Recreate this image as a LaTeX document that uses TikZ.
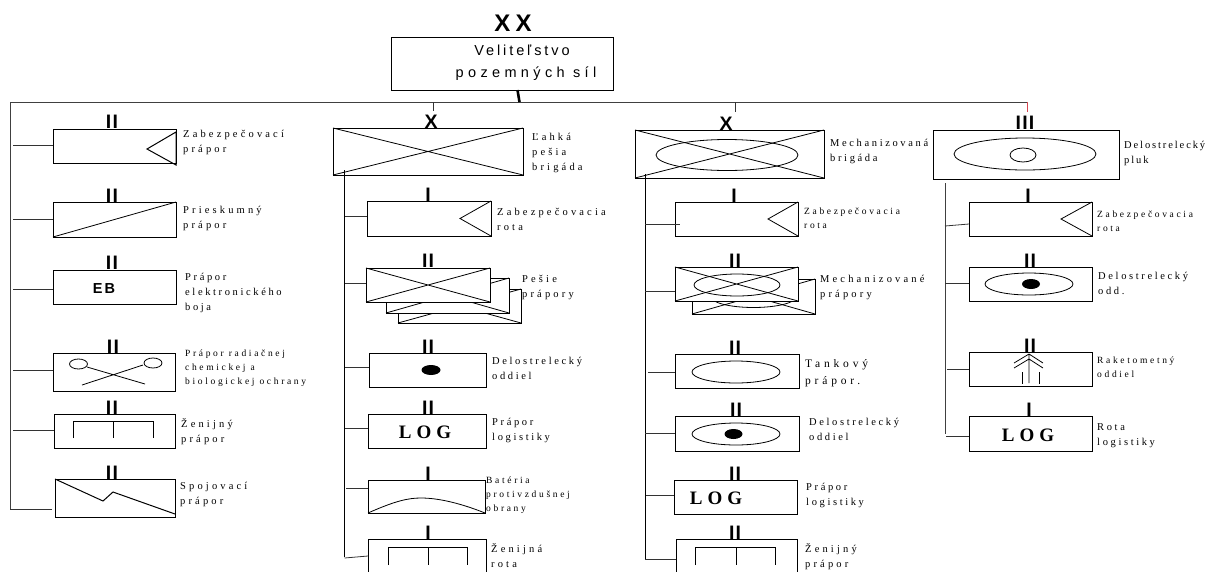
\documentclass[tikz,border=0pt]{standalone}
\usepackage{fontspec}
\setmainfont{Liberation Serif}
\newfontfamily\lblfont[LetterSpace=30]{Liberation Serif}
\newfontfamily\lblmidfont[LetterSpace=25]{Liberation Serif}
\newfontfamily\lblnarfont[LetterSpace=18]{Liberation Serif}
\newfontfamily\lblwidefont[LetterSpace=33]{Liberation Serif}
\newfontfamily\lblsmfont[LetterSpace=28]{Liberation Serif}
\newfontfamily\hqfont[LetterSpace=30]{Liberation Sans}
\newfontfamily\hqnarfont[LetterSpace=20]{Liberation Sans}
\newfontfamily\echfont[LetterSpace=6,BoldFont=Liberation Sans Bold]{Liberation Sans}
\newfontfamily\xxfont[LetterSpace=22,BoldFont=Liberation Sans Bold]{Liberation Sans}
\newfontfamily\logfont[LetterSpace=27,BoldFont=Liberation Serif Bold]{Liberation Serif}
\newfontfamily\ebfont[LetterSpace=15,BoldFont=Liberation Sans Bold]{Liberation Sans}
\definecolor{stemred}{RGB}{214,70,80}
\tikzset{
  unitbox/.style = {draw, fill=white, line width=.9pt, inner sep=0pt, outer sep=0pt, anchor=north west},
  symb/.style = {line width=.8pt},
  bus/.style = {line width=.9pt, black!75},
  branch/.style = {line width=.8pt, black!80},
  echelon/.style = {anchor=base, inner sep=0pt, font=\fontsize{19.5}{20}\selectfont\echfont\bfseries},
  lbl/.style = {anchor=north west, inner sep=0pt, align=left, execute at begin node={\rule{0pt}{9pt}},
    font=\fontsize{10.5}{15}\selectfont\lblfont},
  lblmid/.style = {lbl, font=\fontsize{10.5}{15}\selectfont\lblmidfont},
  lblnar/.style = {lbl, font=\fontsize{10.5}{15}\selectfont\lblnarfont},
  lblbig/.style = {lbl, font=\fontsize{11.5}{16.5}\selectfont\lblwidefont},
  lblsm/.style = {lbl, font=\fontsize{9.5}{14}\selectfont\lblsmfont},
  logtext/.style = {inner sep=0pt, font=\fontsize{19}{20}\selectfont\logfont\bfseries},
}
% box from its upper left to its lower right corner
\newcommand{\unit}[5]{\node[unitbox, minimum width={#4-#2}, minimum height={#5-#3}] (#1) at (#2,#3) {};}
\newcommand{\crossed}[1]{\draw[symb] (#1.north west) -- (#1.south east) (#1.south west) -- (#1.north east);}
\newcommand{\engineer}[5]{\draw[symb] (#1,#5) -- (#1,#4) -- (#3,#4) -- (#3,#5) (#2,#4) -- (#2,#5);}
\newcommand{\branch}[3]{\coordinate (#3Br) at (#1,#2); \draw[branch] (#3Br) -- (#3Br -| #3.west);}
\begin{document}
\begin{tikzpicture}[x=1pt, y=-1pt]
  \useasboundingbox (0,0) rectangle (1209,571);

  % headquarters and the long bus
  \unit{hq}{391}{37}{613}{90}
  \node[inner sep=0pt, font=\fontsize{24}{24}\selectfont\xxfont\bfseries] (hqMark) at (513,23) {XX};
  \node[inner sep=0pt, font=\fontsize{14.5}{22}\selectfont\hqfont, align=center] (hqText) at (526,62.5) {{\hqnarfont Veliteľstvo}\hspace*{8pt}\\pozemných síl};
  \coordinate (busL) at (10,102);
  \coordinate (busR) at (1027,102);
  \coordinate (busEnd) at (10,509);
  \coordinate (hqFoot) at (517.5,90);
  \coordinate (hqBus) at (519.5,102);
  \draw[bus] (busEnd) -- (busL) -- (busR);
  \draw[line width=2.6pt] (hqFoot) -- (hqBus);

  % first column
  \unit{zabPr}{53}{129}{176}{163}
  \node[echelon] (zabPrM) at (112,128) {II};
  \draw[symb, line width=1pt] (176,132) -- (147,149) -- (176,165) -- cycle;
  \node[lbl] (zabPrT) at (183,129.5) {Zabezpečovací\\prápor};
  \branch{13}{145}{zabPr}

  \unit{priPr}{53}{202}{176}{237}
  \node[echelon] (priPrM) at (112,202) {II};
  \draw[symb] (priPr.south west) -- (priPr.north east);
  \node[lbl] (priPrT) at (183,205.5) {Prieskumný\\prápor};
  \branch{13}{219}{priPr}

  \unit{ebPr}{53}{270}{176}{304}
  \node[echelon] (ebPrM) at (112,269) {II};
  \node[inner sep=0pt, font=\fontsize{14.5}{15}\selectfont\ebfont\bfseries] (ebPrS) at (104,289) {EB};
  \node[lblmid] (ebPrT) at (185,272.5) {Prápor\\elektronického\\boja};
  \branch{13}{289}{ebPr}

  \unit{rchPr}{53}{353}{175}{391}
  \node[echelon] (rchPrM) at (113,353) {II};
  \draw[symb] (78.5,364) ellipse (9pt and 5pt) (153,363) ellipse (9pt and 5pt);
  \draw[symb] (87,367) -- (145,384) (143,365) -- (82,385);
  \node[lblsm] (rchPrT) at (185,349.5) {Prápor radiačnej\\chemickej a\\biologickej ochrany};
  \branch{13}{370}{rchPr}

  \unit{zenPr}{54}{414}{175}{448}
  \node[echelon] (zenPrM) at (112,414) {II};
  \engineer{73}{113.5}{153}{421}{438}
  \node[lbl] (zenPrT) at (181,418.5) {Ženijný\\prápor};
  \branch{13}{430}{zenPr}

  \unit{spoPr}{55}{479}{175}{517}
  \node[echelon] (spoPrM) at (112,479) {II};
  \draw[symb, line width=1pt] (spoPr.north west) -- (103,501) -- (113,492) -- (175,514);
  \node[lbl] (spoPrT) at (180,481.5) {Spojovací\\prápor};
  \coordinate (spoPrBr) at (52,509);
  \draw[branch] (busEnd) -- (spoPrBr);

  % light infantry brigade
  \coordinate (lpbStem) at (433,102);
  \coordinate (lpbStemEnd) at (433,111);
  \draw[branch] (lpbStem) -- (lpbStemEnd);
  \unit{lpb}{333}{128}{523}{175}
  \crossed{lpb}
  \node[echelon] (lpbM) at (431,128) {X};
  \node[lbl] (lpbT) at (532,132.5) {Ľahká\\pešia\\brigáda};
  \coordinate (lpbSpine) at (344.5,170);
  \coordinate (lpbSpineEnd) at (344.5,557);
  \draw[line width=.9pt] (lpbSpine) -- (lpbSpineEnd);

  \unit{lpbZab}{367}{201}{491}{236}
  \node[echelon] (lpbZabM) at (428,201) {I};
  \draw[symb] (lpbZab.north east) -- (460,218.5) -- (lpbZab.south east);
  \node[lbl] (lpbZabT) at (497,207.5) {Zabezpečovacia\\rota};
  \branch{345}{216}{lpbZab}

  \unit{lpbPes3}{398}{289}{521}{323}
  \crossed{lpbPes3}
  \unit{lpbPes2}{386}{278}{509}{313}
  \crossed{lpbPes2}
  \unit{lpbPes}{366}{268}{490}{302}
  \crossed{lpbPes}
  \node[echelon] (lpbPesM) at (428,267) {II};
  \node[lbl] (lpbPesT) at (522,274.5) {Pešie\\prápory};
  \branch{345}{283}{lpbPes}

  \unit{lpbDel}{369}{353}{486}{387}
  \node[echelon] (lpbDelM) at (428,353) {II};
  \fill (431,370) ellipse (9.5pt and 5pt);
  \node[lblmid] (lpbDelT) at (492,356.5) {Delostrelecký\\oddiel};
  \branch{345}{367}{lpbDel}

  \unit{lpbLog}{368}{414}{486}{448}
  \node[echelon] (lpbLogM) at (428,414) {II};
  \node[logtext] (lpbLogS) at (425,432) {LOG};
  \node[lblmid] (lpbLogT) at (492,417.5) {Prápor\\logistiky};
  \branch{345}{428}{lpbLog}

  \unit{lpbBat}{368}{480}{485}{513}
  \node[echelon] (lpbBatM) at (428,480) {I};
  \draw[symb] (lpbBat.south west) .. controls (395,501) and (408,498) .. (421,498) .. controls (438,498) and (460,503) .. (lpbBat.south east);
  \node[lblsm] (lpbBatT) at (486,476.5) {Batéria\\protivzdušnej\\obrany};
  \branch{346}{488}{lpbBat}

  \unit{lpbZen}{368}{539}{486}{582}
  \node[echelon] (lpbZenM) at (428,539) {I};
  \engineer{388}{428}{467}{547}{565}
  \node[lbl] (lpbZenT) at (491,543.5) {Ženijná\\rota};
  \coordinate (lpbZenBr) at (344.5,558);
  \draw[branch] (lpbZenBr) -- (lpbZen.west |- 0,556);

  % mechanized brigade
  \coordinate (mebStem) at (735,102);
  \coordinate (mebStemEnd) at (735,112);
  \draw[branch] (mebStem) -- (mebStemEnd);
  \unit{meb}{635}{130}{824}{178}
  \crossed{meb}
  \draw[symb] (727,155) ellipse (71pt and 15.5pt);
  \node[echelon] (mebM) at (726,130) {X};
  \node[lblmid] (mebT) at (830,138.5) {Mechanizovaná\\brigáda};
  \coordinate (mebSpine) at (645,174);
  \coordinate (mebSpineEnd) at (645,559);
  \draw[line width=.9pt] (mebSpine) -- (mebSpineEnd);

  \unit{mebZab}{675}{202}{798}{236}
  \node[echelon] (mebZabM) at (734,202) {I};
  \draw[symb] (mebZab.north east) -- (768,219) -- (mebZab.south east);
  \node[lblsm] (mebZabT) at (804,207.5) {Zabezpečovacia\\rota};
  \coordinate (mebZabBr) at (645,224);
  \coordinate (mebZabIn) at (680,224);
  \draw[branch] (mebZabBr) -- (mebZabIn);

  \unit{mebMec2}{692}{279}{815}{314}
  \crossed{mebMec2}
  \draw[symb] (753.5,296.5) ellipse (43pt and 11pt);
  \unit{mebMec}{675}{267}{798}{301}
  \crossed{mebMec}
  \draw[symb] (737,285) ellipse (43pt and 11pt);
  \node[echelon] (mebMecM) at (735,267) {II};
  \node[lbl] (mebMecT) at (820,274.5) {Mechanizované\\prápory};
  \branch{645}{291}{mebMec}

  \unit{mebTan}{675}{354}{799}{388}
  \node[echelon] (mebTanM) at (735,354) {II};
  \draw[symb] (736,372) ellipse (44pt and 11pt);
  \node[lblbig] (mebTanT) at (805,359.5) {Tankový\\prápor.};
  \branch{648}{372}{mebTan}

  \unit{mebDel}{675}{416}{799}{451}
  \node[echelon] (mebDelM) at (736,416) {II};
  \draw[symb] (736,434) ellipse (44pt and 11pt);
  \fill (733.5,434) ellipse (9pt and 5pt);
  \node[lblmid] (mebDelT) at (809,417.5) {Delostrelecký\\oddiel};
  \branch{645}{433}{mebDel}

  \unit{mebLog}{674}{480}{797}{514}
  \node[echelon] (mebLogM) at (735,480) {II};
  \node[logtext] (mebLogS) at (716,498) {LOG};
  \node[lblmid] (mebLogT) at (806,482.5) {Prápor\\logistiky};
  \branch{646}{495}{mebLog}

  \unit{mebZen}{676}{539}{797}{582}
  \node[echelon] (mebZenM) at (735,539) {II};
  \engineer{695}{736}{775}{547}{565}
  \node[lbl] (mebZenT) at (805,543.5) {Ženijný\\prápor};
  \branch{645}{559}{mebZen}

  % artillery regiment
  \coordinate (arpStemEnd) at (1027,112);
  \draw[stemred, line width=.9pt] (busR) -- (arpStemEnd);
  \unit{arp}{933}{130}{1119}{179}
  \draw[symb] (1025,154) ellipse (71pt and 16pt);
  \draw[symb] (1023,155) ellipse (13pt and 7pt);
  \node[echelon] (arpM) at (1025,129) {III};
  \node[lblnar] (arpT) at (1124,140.5) {Delostrelecký\\pluk};
  \coordinate (arpSpine) at (945,183);
  \coordinate (arpSpineEnd) at (945,434);
  \draw[line width=.9pt, black!75] (arpSpine) -- (arpSpineEnd);

  \unit{arpZab}{969}{202}{1092}{236}
  \node[echelon] (arpZabM) at (1028,202) {I};
  \draw[symb] (arpZab.north east) -- (1061,219) -- (arpZab.south east);
  \node[lblsm] (arpZabT) at (1097,210.5) {Zabezpečovacia\\rota};
  \coordinate (arpZabBr) at (945,226);
  \draw[branch] (arpZabBr) -- (arpZab.west |- 0,224);

  \unit{arpDel}{969}{267}{1092}{301}
  \node[echelon] (arpDelM) at (1030,267) {II};
  \draw[symb] (1029,284) ellipse (44pt and 11pt);
  \fill (1031,284) ellipse (9pt and 5pt);
  \node[lblmid] (arpDelT) at (1098,271.5) {Delostrelecký\\odd.};
  \branch{945}{283}{arpDel}

  \unit{arpRak}{969}{352}{1092}{386}
  \node[echelon] (arpRakM) at (1030,352) {II};
  \draw[symb] (1029,354) -- (1029,383) (1014,363) -- (1029,354) -- (1043,363) (1014,368) -- (1029,359) -- (1043,368);
  \draw[symb] (1022,372) -- (1022,384) (1039,372) -- (1039,384);
  \node[lblsm] (arpRakT) at (1097,356.5) {Raketometný\\oddiel};
  \branch{947}{369}{arpRak}

  \unit{arpLog}{969}{416}{1092}{451}
  \node[echelon] (arpLogM) at (1029,416) {I};
  \node[logtext] (arpLogS) at (1028,435) {LOG};
  \node[lblmid] (arpLogT) at (1097,423.5) {Rota\\logistiky};
  \branch{946}{436}{arpLog}
\end{tikzpicture}
\end{document}
